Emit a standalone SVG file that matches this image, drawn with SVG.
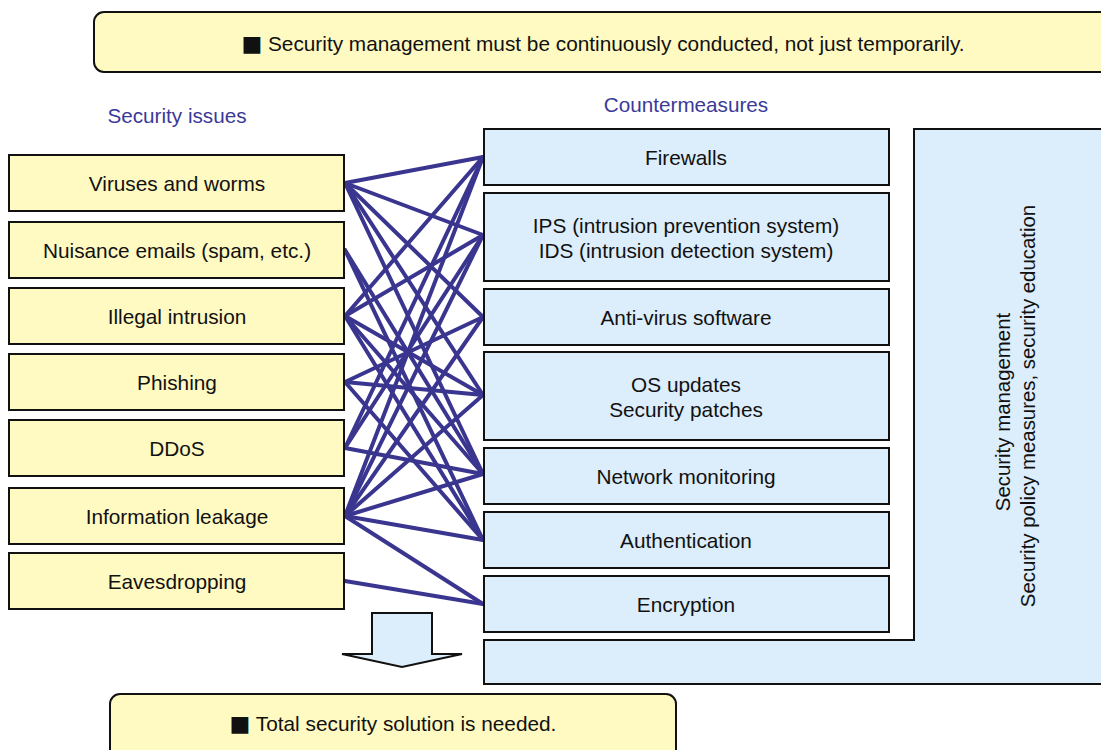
<svg xmlns="http://www.w3.org/2000/svg" width="1101" height="750" viewBox="0 0 1101 750">
<style>
text{font-family:"Liberation Sans",Arial,sans-serif;font-size:20.8px;fill:#111;}
.sq{font-family:"DejaVu Sans",sans-serif;font-size:22px;}
.hd{fill:#3b3a98;font-size:20.7px;}
.vt{font-size:20.4px;}
.issue{fill:#fff9c2;stroke:#111;stroke-width:2;}
.cm{fill:#dcedfb;stroke:#111;stroke-width:2;}
.ban{fill:#fff9c2;stroke:#111;stroke-width:2;}
.c{text-anchor:middle;dominant-baseline:central;}
#connectors line{stroke:#3a368f;stroke-width:4;stroke-linecap:round;}
</style>
<rect width="1101" height="750" fill="#fff"/>
<g id="banner-top"><rect class="ban" x="94" y="12" width="1030" height="60" rx="10"/><text class="c" x="603" y="43"><tspan class="sq">■</tspan> Security management must be continuously conducted, not just temporarily.</text></g>
<text class="hd c" x="177" y="115">Security issues</text>
<text class="hd c" x="686" y="104">Countermeasures</text>
<g id="connectors">
<line x1="345" y1="183" x2="483" y2="157"/>
<line x1="345" y1="183" x2="483" y2="235"/>
<line x1="345" y1="183" x2="483" y2="317"/>
<line x1="345" y1="183" x2="483" y2="395"/>
<line x1="345" y1="183" x2="483" y2="474"/>
<line x1="345" y1="250" x2="483" y2="474"/>
<line x1="345" y1="250" x2="483" y2="540"/>
<line x1="345" y1="316" x2="483" y2="157"/>
<line x1="345" y1="316" x2="483" y2="235"/>
<line x1="345" y1="316" x2="483" y2="395"/>
<line x1="345" y1="316" x2="483" y2="474"/>
<line x1="345" y1="316" x2="483" y2="540"/>
<line x1="345" y1="382" x2="483" y2="317"/>
<line x1="345" y1="382" x2="483" y2="395"/>
<line x1="345" y1="382" x2="483" y2="540"/>
<line x1="345" y1="448" x2="483" y2="157"/>
<line x1="345" y1="448" x2="483" y2="235"/>
<line x1="345" y1="448" x2="483" y2="474"/>
<line x1="345" y1="516" x2="483" y2="157"/>
<line x1="345" y1="516" x2="483" y2="235"/>
<line x1="345" y1="516" x2="483" y2="317"/>
<line x1="345" y1="516" x2="483" y2="395"/>
<line x1="345" y1="516" x2="483" y2="474"/>
<line x1="345" y1="516" x2="483" y2="540"/>
<line x1="345" y1="516" x2="483" y2="604"/>
<line x1="345" y1="581" x2="483" y2="604"/>
</g>
<g id="issue-viruses"><rect class="issue" x="9" y="155" width="335" height="56"/><text class="c" x="177" y="183">Viruses and worms</text></g>
<g id="issue-nuisance"><rect class="issue" x="9" y="222" width="335" height="56"/><text class="c" x="177" y="250">Nuisance emails (spam, etc.)</text></g>
<g id="issue-intrusion"><rect class="issue" x="9" y="288" width="335" height="56"/><text class="c" x="177" y="316">Illegal intrusion</text></g>
<g id="issue-phishing"><rect class="issue" x="9" y="354" width="335" height="56"/><text class="c" x="177" y="382">Phishing</text></g>
<g id="issue-ddos"><rect class="issue" x="9" y="420" width="335" height="56"/><text class="c" x="177" y="448">DDoS</text></g>
<g id="issue-leakage"><rect class="issue" x="9" y="488" width="335" height="56"/><text class="c" x="177" y="516">Information leakage</text></g>
<g id="issue-eavesdropping"><rect class="issue" x="9" y="553" width="335" height="56"/><text class="c" x="177" y="581">Eavesdropping</text></g>
<g id="cm-firewalls"><rect class="cm" x="484" y="129" width="405" height="56"/><text class="c" x="686" y="157">Firewalls</text></g>
<g id="cm-ips"><rect class="cm" x="484" y="193" width="405" height="88"/><text class="c" x="686" y="225">IPS (intrusion prevention system)</text><text class="c" x="686" y="250">IDS (intrusion detection system)</text></g>
<g id="cm-antivirus"><rect class="cm" x="484" y="289" width="405" height="56"/><text class="c" x="686" y="317">Anti-virus software</text></g>
<g id="cm-os"><rect class="cm" x="484" y="352" width="405" height="88"/><text class="c" x="686" y="384">OS updates</text><text class="c" x="686" y="409">Security patches</text></g>
<g id="cm-monitoring"><rect class="cm" x="484" y="448" width="405" height="56"/><text class="c" x="686" y="476">Network monitoring</text></g>
<g id="cm-auth"><rect class="cm" x="484" y="512" width="405" height="56"/><text class="c" x="686" y="540">Authentication</text></g>
<g id="cm-encryption"><rect class="cm" x="484" y="576" width="405" height="56"/><text class="c" x="686" y="604">Encryption</text></g>
<g id="security-management"><path class="cm" d="M914,129 H1110 V684 H484 V640 H914 Z"/>
<text class="c vt" transform="translate(1003,412) rotate(-90)" x="0" y="0">Security management</text>
<text class="c vt" transform="translate(1028,406) rotate(-90)" x="0" y="0">Security policy measures, security education</text></g>
<g id="arrow"><path class="cm" d="M372,613 H432 V654 H462 L402,667 L342,654 H372 Z"/></g>
<g id="banner-bottom"><rect class="ban" x="110" y="694" width="566" height="80" rx="10"/><text class="c" x="393" y="723"><tspan class="sq">■</tspan> Total security solution is needed.</text></g>
</svg>
